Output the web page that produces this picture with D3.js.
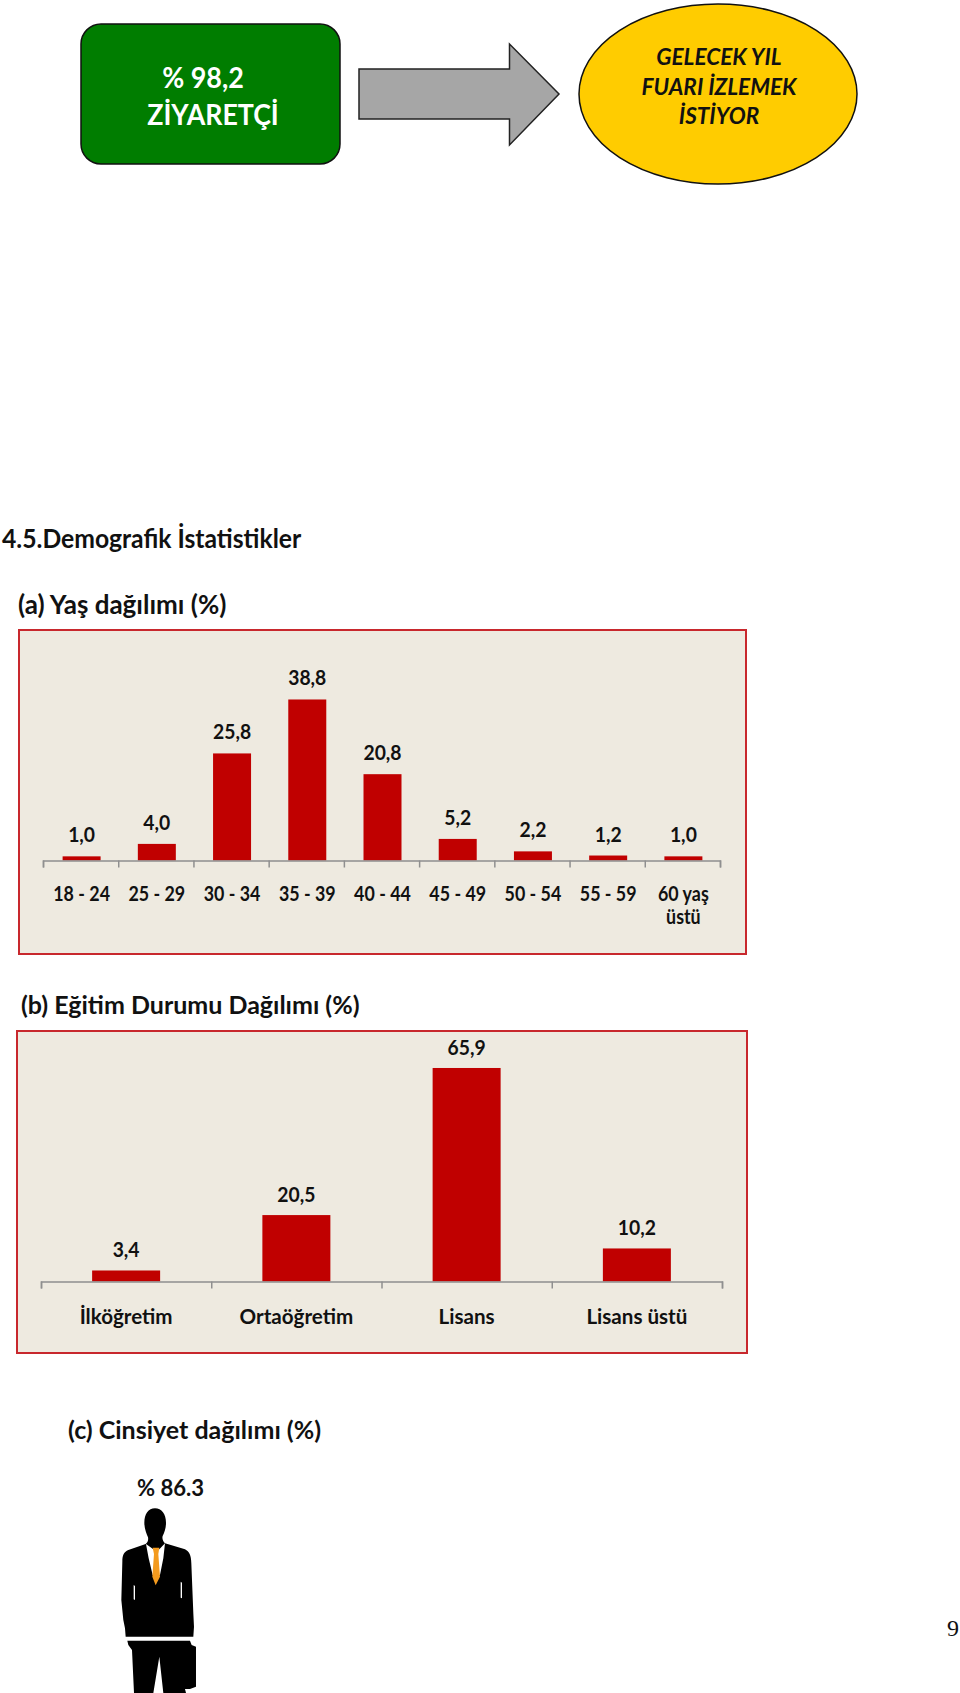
<!DOCTYPE html>
<html>
<head>
<meta charset="utf-8">
<script src="https://cdnjs.cloudflare.com/ajax/libs/d3/7.8.5/d3.min.js"></script>
<style>
  html, body { margin: 0; padding: 0; background: #fff; }
  svg { display: block; }
  text { font-family: Lato, sans-serif; font-weight: 700; fill: #111; }
  .bar { fill: #c00000; }
  .panel { fill: #eeeae0; stroke: #c8282d; stroke-width: 2; }
  .ticks path, .ticks line { stroke: #8f8f8f; stroke-width: 1.5; }
</style>
</head>
<body>
<div id="chart"></div>
<script>
const ageLabels = ['18 - 24', '25 - 29', '30 - 34', '35 - 39', '40 - 44', '45 - 49', '50 - 54', '55 - 59', '60 yaş üstü'];
const ageValues = [1.0, 4.0, 25.8, 38.8, 20.8, 5.2, 2.2, 1.2, 1.0];
const eduLabels = ['İlköğretim', 'Ortaöğretim', 'Lisans', 'Lisans üstü'];
const eduValues = [3.4, 20.5, 65.9, 10.2];

const svg = d3.select('#chart').append('svg')
  .attr('width', 960)
  .attr('height', 1693);

const comma = d3.format('.1f');
const label = v => comma(v).replace('.', ',');

// Lato runs wider than the original's font, so condense it a bit once measured
function squeeze(sel, k) {
  sel.attr('lengthAdjust', 'spacingAndGlyphs')
    .attr('textLength', function() { return this.getComputedTextLength() * k; });
  return sel;
}

function barPanel(opts) {
  const { box, x0, x1, y0, pxPerUnit, maxV, barWidth, labels, values, catY, gap, catSqueeze, shift } = opts;
  svg.append('rect').attr('class', 'panel')
    .attr('x', box[0]).attr('y', box[1])
    .attr('width', box[2] - box[0]).attr('height', box[3] - box[1]);

  const x = d3.scaleBand().domain(labels).range([x0 + shift, x1 + shift]);
  const y = d3.scaleLinear().domain([0, maxV]).range([y0, y0 - maxV * pxPerUnit]);
  const data = labels.map((l, i) => ({ l, v: values[i] }));

  svg.append('g').selectAll('rect').data(data).enter().append('rect')
    .attr('class', 'bar')
    .attr('x', d => x(d.l) + (x.bandwidth() - barWidth) / 2)
    .attr('y', d => y(d.v))
    .attr('width', barWidth)
    .attr('height', d => y(0) - y(d.v));

  svg.append('g').selectAll('text').data(data).enter().append('text')
    .attr('x', d => x(d.l) + x.bandwidth() / 2)
    .attr('y', d => y(d.v) - gap)
    .attr('text-anchor', 'middle')
    .attr('font-size', 21)
    .text(d => label(d.v))
    .call(squeeze, 0.92);

  // ticks sit on the band edges, not the centres
  const edges = d3.scaleLinear().domain([0, labels.length]).range([x0, x1]);
  svg.append('g').attr('class', 'ticks')
    .attr('transform', `translate(0, ${y0})`)
    .call(d3.axisBottom(edges).ticks(labels.length).tickSize(7).tickSizeOuter(7).tickFormat(''));

  // "60 yaş üstü" breaks in two like the original
  const catLines = labels.flatMap(l => {
    const parts = l === '60 yaş üstü' ? ['60 yaş', 'üstü'] : [l];
    return parts.map((t, i) => ({ l, t, i }));
  });
  svg.append('g').selectAll('text').data(catLines).enter().append('text')
    .attr('x', d => x(d.l) + x.bandwidth() / 2)
    .attr('y', d => catY + d.i * 23)
    .attr('text-anchor', 'middle')
    .attr('font-size', 21)
    .text(d => d.t)
    .call(squeeze, catSqueeze);
}

// top flow: box -> arrow -> ellipse
svg.append('rect')
  .attr('x', 81).attr('y', 24).attr('width', 259).attr('height', 140).attr('rx', 20)
  .attr('fill', '#007d00').attr('stroke', '#111').attr('stroke-width', 1.5);
svg.append('text').attr('x', 203).attr('y', 88).attr('text-anchor', 'middle')
  .attr('font-size', 28).style('fill', '#fff').text('% 98,2').call(squeeze, 0.96);
svg.append('text').attr('x', 213).attr('y', 125).attr('text-anchor', 'middle')
  .attr('font-size', 28).style('fill', '#fff').text('ZİYARETÇİ').call(squeeze, 0.955);

svg.append('path')
  .attr('d', 'M359,69H509.5V44L559,94L509.5,145V119H359Z')
  .attr('fill', '#a6a6a6').attr('stroke', '#222').attr('stroke-width', 1.5);

svg.append('ellipse')
  .attr('cx', 718).attr('cy', 94).attr('rx', 139).attr('ry', 90)
  .attr('fill', '#ffcc00').attr('stroke', '#111').attr('stroke-width', 1.5);
['GELECEK YIL', 'FUARI İZLEMEK', 'İSTİYOR'].forEach((t, i) => {
  svg.append('text').attr('x', 719).attr('y', 65 + i * 29.5).attr('text-anchor', 'middle')
    .attr('font-size', 23).style('font-style', 'italic').text(t).call(squeeze, 0.98);
});

// headings
const headings = [
  ['4.5.Demografik İstatistikler', 2, 548, 26, 0.95],
  ['(a) Yaş dağılımı (%)', 18, 614, 26, 1],
  ['(b) Eğitim Durumu Dağılımı (%)', 21, 1014, 25, 1],
  ['(c) Cinsiyet dağılımı (%)', 68, 1439, 25, 1],
  ['% 86.3', 137, 1496, 23, 0.96]
];
svg.append('g').selectAll('text').data(headings).enter().append('text')
  .attr('x', d => d[1]).attr('y', d => d[2]).attr('font-size', d => d[3]).text(d => d[0])
  .each(function(d) { d3.select(this).call(squeeze, d[4]); });

barPanel({
  box: [19, 630, 746, 954], x0: 43, x1: 720, y0: 860.5, pxPerUnit: 4.15, maxV: 40, shift: 1,
  barWidth: 38, labels: ageLabels, values: ageValues, catY: 901, gap: 14, catSqueeze: 0.85
});
barPanel({
  box: [17, 1031, 747, 1353], x0: 41, x1: 722, y0: 1281.5, pxPerUnit: 3.24, maxV: 70, shift: 0,
  barWidth: 68, labels: eduLabels, values: eduValues, catY: 1324, gap: 13, catSqueeze: 0.98
});

// man silhouette, cropped by the page bottom
const man = svg.append('g').attr('transform', 'translate(110, 1500) scale(0.3333)');
man.append('path').attr('fill', '#000')
  .attr('d', 'M135,25C115,25 103,42 103,68C103,85 109,100 114,112C116,122 112,128 107,132L55,150C42,156 37,165 37,185L34,300L40,360L45,385L47,410H250L252,380L250,340L244,190C243,165 238,155 225,148L165,130C158,122 156,115 158,108C164,95 168,85 168,68C168,42 155,25 135,25Z');
man.append('path').attr('fill', '#000')
  .attr('d', 'M52,422H240L245,435L258,440V560L240,567H225L228,579H160L148,470L130,579H72L66,450L55,435Z');
man.append('path').attr('fill', '#fff').attr('d', 'M108,132L130,148H148L165,130L160,175L150,225L128,225L116,175Z');
man.append('path').attr('fill', '#f39a1e').attr('d', 'M128,143H148L145,162L150,230L137,256L127,230L132,162Z');
man.append('path').attr('fill', '#fff').attr('d', 'M71,255L75,258L75,300L71,298Z');
man.append('path').attr('fill', '#fff').attr('d', 'M212,245L216,248L216,295L212,293Z');

svg.append('text').attr('x', 947).attr('y', 1636)
  .attr('font-size', 24).style('font-family', "'Liberation Serif', serif").style('font-weight', 400).text('9');
</script>
</body>
</html>
